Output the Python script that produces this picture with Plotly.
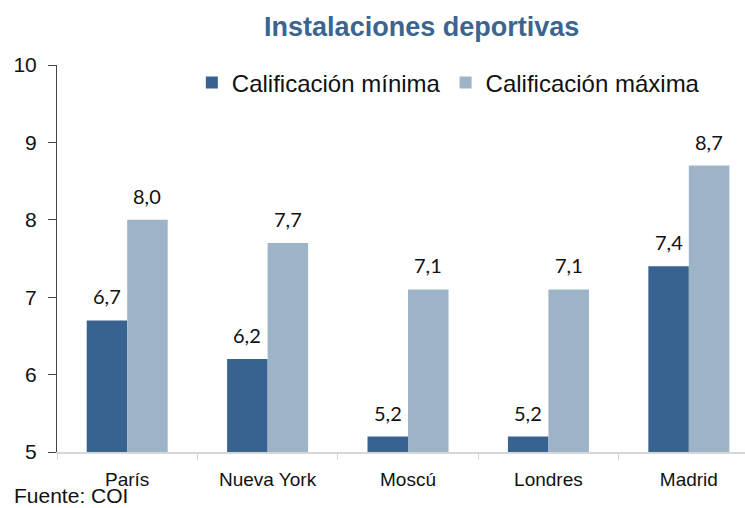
import plotly.graph_objects as go

categories = ["París", "Nueva York", "Moscú", "Londres", "Madrid"]
minima = [6.7, 6.2, 5.2, 5.2, 7.4]
maxima = [8.0, 7.7, 7.1, 7.1, 8.7]
series_names = ["Calificación mínima", "Calificación máxima"]
y_ticks = [5, 6, 7, 8, 9, 10]

dark = "#386390"
light = "#9db3c8"

fig = go.Figure()
fig.add_trace(go.Bar(x=categories, y=minima, name=series_names[0], marker_color=dark,
                     marker_line_width=0, base=0))
fig.add_trace(go.Bar(x=categories, y=maxima, name=series_names[1], marker_color=light,
                     marker_line_width=0, base=0))

# value labels
offsets = [-0.14425, 0.14425]
for vals, off in zip([minima, maxima], offsets):
    for i, v in enumerate(vals):
        fig.add_annotation(x=i + off, y=v, text=f"{v:.1f}".replace(".", ","),
                           showarrow=False, yanchor="bottom", yshift=10,
                           font=dict(family="Lato", size=20, color="#111"))

fig.update_layout(
    width=745, height=508,
    margin=dict(l=57, r=0, t=65, b=56),
    paper_bgcolor="white", plot_bgcolor="white",
    barmode="group", bargap=0.423, bargroupgap=0,
    title=dict(text="<b>Instalaciones deportivas</b>", x=0.566, xanchor="center",
               y=0.947, yanchor="middle",
               font=dict(family="Liberation Sans", size=27, color="#3b6591")),
    legend=dict(orientation="h", x=0.196, xanchor="left", y=1.012, yanchor="top",
                font=dict(family="Liberation Sans", size=24, color="#111"),
                itemwidth=30, traceorder="normal", bgcolor="rgba(0,0,0,0)"),
    showlegend=True,
)
fig.update_xaxes(type="category", range=[-0.5, 4.4], showline=True, linecolor="#d6d6d6",
                 linewidth=2, ticks="outside", tickson="boundaries", ticklen=6,
                 tickcolor="#d6d6d6", tickwidth=1, ticklabelstandoff=9,
                 tickfont=dict(family="Liberation Sans", size=19, color="#111"))
fig.update_yaxes(range=[5, 10], tickvals=y_ticks, showline=True, linecolor="#444",
                 linewidth=1, ticks="outside", ticklen=8, tickcolor="#444",
                 showgrid=False, zeroline=False, ticklabelstandoff=7,
                 tickfont=dict(family="Liberation Sans", size=21, color="#111"))
fig.add_annotation(text="Fuente: COI", xref="paper", yref="paper", x=-44/688, y=-56/387,
                   xanchor="left", yanchor="bottom", showarrow=False, borderpad=0,
                   font=dict(family="Liberation Sans", size=21, color="#111"))

fig.write_html("out.html", config={"displayModeBar": False},
               post_script="document.body.style.margin='0';")
